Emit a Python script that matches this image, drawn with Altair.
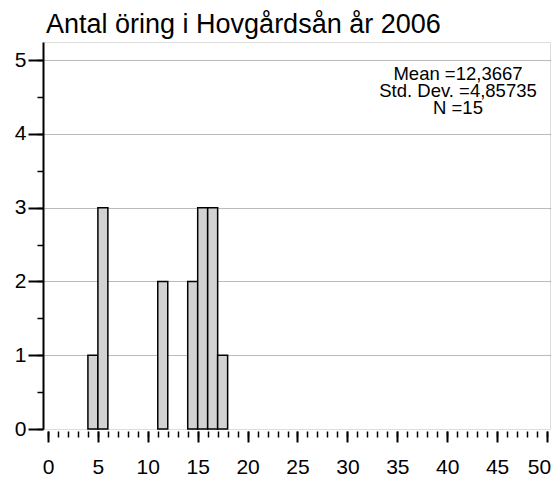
import altair as alt
import pandas as pd

# Histogram bins (width 1) and counts
bin_start = [4, 5, 11, 14, 15, 16, 17]
bin_end = [5, 6, 12, 15, 16, 17, 18]
counts = [1, 3, 2, 2, 3, 3, 1]

title_text = "Antal öring i Hovgårdsån år 2006"
stat_labels = ["Mean =", "Std. Dev. =", "N ="]
stat_values = ["12,3667", "4,85735", "15"]

x_major = list(range(0, 51, 5))
x_minor = list(range(0, 51, 1))
y_major = [0, 1, 2, 3, 4, 5]
y_minor = [0, 0.5, 1, 1.5, 2, 2.5, 3, 3.5, 4, 4.5, 5]

df = pd.DataFrame({"start": bin_start, "end": bin_end, "count": counts})

FONT = "Liberation Sans"
xscale = alt.Scale(domain=[-0.5, 50.3], nice=False, zero=False)
yscale = alt.Scale(domain=[0, 5.245], nice=False, zero=False)

bars = alt.Chart(df).mark_rect(
    fill="#d2d2d2", stroke="black", strokeWidth=1.5
).encode(
    x=alt.X("start:Q", scale=xscale, title=None,
            axis=alt.Axis(orient="bottom", values=x_major, domain=False, grid=False,
                          offset=2, tickSize=11, tickWidth=2, tickColor="black",
                          labelFontSize=21, labelFont=FONT, labelColor="black",
                          labelPadding=14, labelFlush=False,
                          labelOffset={"condition": {"test": "datum.value === 50", "value": -8}, "value": 0})),
    x2="end:Q",
    y=alt.Y("count:Q", scale=yscale, title=None,
            axis=alt.Axis(orient="left", values=y_major, domain=True, domainColor="black",
                          domainWidth=2, tickSize=15, tickWidth=2, tickColor="black",
                          labelFontSize=21, labelFont=FONT, labelColor="black",
                          labelPadding=2, labelFlush=False,
                          grid=True, gridColor="#777777", gridDash=[1, 1], gridWidth=1,
                          gridOpacity={"condition": {"test": "datum.value === 0", "value": 0}, "value": 1})),
    y2=alt.Y2(datum=0),
)

minor = alt.Chart(df).mark_rect(opacity=0).encode(
    x=alt.X("start:Q", scale=xscale, title=None,
            axis=alt.Axis(orient="bottom", values=x_minor, labels=False, domain=False, grid=False,
                          offset=2, tickSize=6, tickWidth=1.5, tickColor="black")),
    x2="end:Q",
    y=alt.Y("count:Q", scale=yscale, title=None,
            axis=alt.Axis(orient="left", values=y_minor, labels=False, domain=False, grid=False,
                          tickSize=6, tickWidth=1.5, tickColor="black")),
    y2=alt.Y2(datum=0),
)

stats_text = "\n".join(l + v for l, v in zip(stat_labels, stat_values))
note = alt.Chart(pd.DataFrame({"t": [stats_text]})).mark_text(
    font=FONT, fontSize=18.5, color="black", align="center", baseline="alphabetic",
    lineBreak="\n", lineHeight=17
).encode(
    text="t:N",
    x=alt.value(415),
    y=alt.value(38),
)

chart = alt.layer(bars, minor, note).resolve_axis(
    x="independent", y="independent"
).properties(
    width=507,
    height=387,
    title=alt.TitleParams(title_text, anchor="start", frame="group", fontSize=27,
                          font=FONT, fontWeight="normal", color="black", offset=3, dx=3),
    autosize=alt.AutoSizeParams(type="none"),
    padding={"left": 35, "top": 34, "right": 2, "bottom": 50},
).configure_view(
    stroke="black", strokeWidth=1
).configure(background="white")

chart.save("out.html", embed_options={"renderer": "svg", "actions": False})
